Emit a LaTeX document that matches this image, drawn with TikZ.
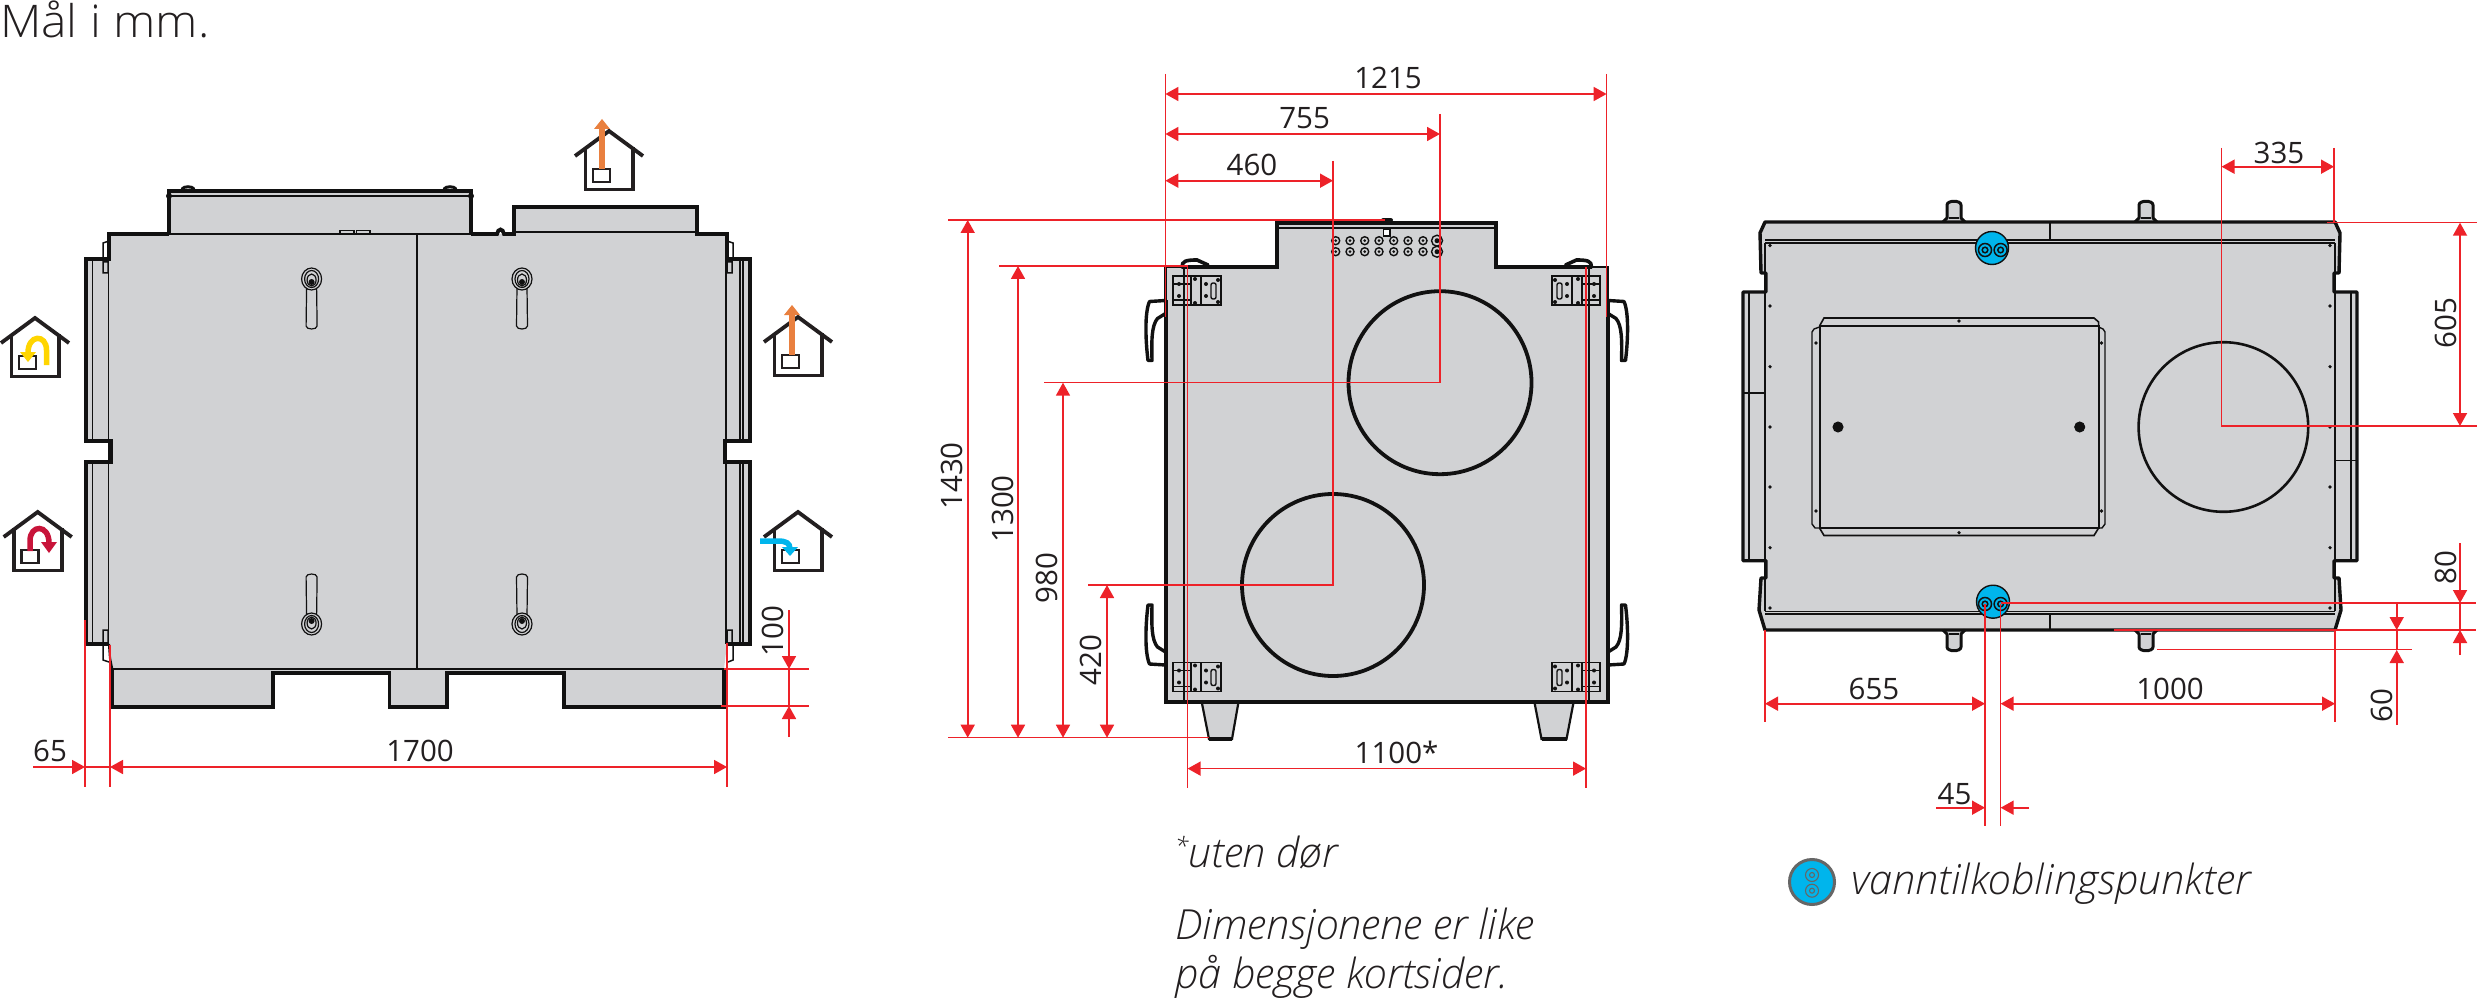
\documentclass[tikz,border=0pt]{standalone}
\usepackage{fontspec}
\setmainfont{Open Sans}
\newfontfamily\lightfont{Open Sans Light}
\newfontfamily\titlefont[FakeStretch=1.065]{Open Sans Light}
\usetikzlibrary{arrows.meta}
\definecolor{bodygray}{HTML}{D1D2D4}
\definecolor{ink}{HTML}{111111}
\definecolor{textink}{HTML}{231F20}
\definecolor{dimred}{HTML}{ED2229}
\definecolor{waterblue}{HTML}{00B5EC}
\definecolor{airorange}{HTML}{E9803F}
\definecolor{airyellow}{HTML}{FFD500}
\definecolor{airred}{HTML}{C8143A}
\tikzset{
  bodyfill/.style={fill=bodygray,draw=none},
  thick outline/.style={draw=ink,line width=3.8pt,line join=miter},
  mid outline/.style={draw=ink,line width=2.2pt},
  thin outline/.style={draw=ink,line width=1.2pt},
  dimline/.style={draw=dimred,line width=1.7pt},
  ext/.style={draw=dimred,line width=1.5pt},
  both/.style={dimline,{Triangle[length=13pt,width=14pt]}-{Triangle[length=13pt,width=14pt]}},
  toend/.style={dimline,-{Triangle[length=13pt,width=14pt]}},
  dimtext/.style={font=\fontsize{29.5}{29.5}\selectfont,text=textink,inner sep=0pt},
  dimrot/.style={dimtext,rotate=90},
  note/.style={font=\lightfont\itshape\fontsize{41.5}{41.5}\selectfont,text=textink,inner sep=0pt,anchor=base west},
  houseline/.style={draw=textink,line width=3.8pt},
}
% house icon: apex at #1,#2
\newcommand{\houseicon}[2]{%
  \begin{scope}[shift={(#1,#2)}]
    \draw[houseline,line join=miter] (-23.5,17)--(-23.5,59.5)--(24,59.5)--(24,17);
    \draw[houseline,line join=miter] (-34,26)--(0,1)--(34,26);
    \draw[draw=textink,line width=2.6pt,fill=white] (-16,39) rectangle (1,52);
  \end{scope}}
% door lock handle at #1,#2; #3 is +1 or -1 for vertical direction
\newcommand{\lockhandle}[3]{%
  \begin{scope}[shift={(#1,#2)},yscale=#3]
    \draw[thin outline,fill=bodygray] (-5,8)--(-5.5,47) .. controls (-5.5,51) and (5.5,51) .. (5.5,47)--(5,8);
    \draw[thin outline,fill=bodygray] (0,0) ellipse[x radius=10pt,y radius=11pt];
    \draw[thin outline] (0,0) ellipse[x radius=7pt,y radius=8.5pt];
    \draw[thin outline] (0,1) ellipse[x radius=4.5pt,y radius=6pt];
    \fill[ink] (0,3) circle[radius=3pt];
  \end{scope}}
% hinge plate: top left corner #1,#2, #3 x direction
\newcommand{\hingeplate}[3]{%
  \begin{scope}[shift={(#1,#2)},xscale=#3]
    \draw[draw=ink,line width=1.4pt] (0,0) rectangle (48,29);
    \draw[draw=ink,line width=1.4pt] (0,8) rectangle (18,24);
    \draw[draw=ink,line width=1.4pt] (28,0)--(28,29) (18,0)--(18,29);
    \draw[draw=ink,line width=1.4pt,rounded corners=2pt] (38,7) rectangle (43,23);
    \foreach \dx/\dy in {6/8,6/20,22/3,22/27,33/8,33/20,45/4,45/26}
      \fill[ink] (\dx,\dy) circle[radius=2pt];
  \end{scope}}
% side handle of middle view: base point #1,#2; xdir #3; ydir #4
\newcommand{\sidehandle}[4]{%
  \begin{scope}[shift={(#1,#2)},xscale=#3,yscale=#4]
    \draw[draw=ink,line width=3.4pt,fill=white,line join=round]
      (0,0)--(-16,1) .. controls (-21,12) and (-20,40) .. (-17.5,60)--(-13.5,60)
      .. controls (-14,40) and (-14,25) .. (-8,18)--(0,13);
  \end{scope}}
% lug of right view at x=#1, y=#2, dir #3
\newcommand{\lug}[3]{%
  \begin{scope}[shift={(#1,#2)},yscale=#3]
    \draw[draw=ink,line width=3pt,fill=bodygray,line join=round]
      (-11,0)--(-7,-4)--(-7,-17) .. controls (-7,-22) and (7,-22) .. (7,-17)--(7,-4)--(11,0);
    \draw[thin outline] (-5,-4)--(5,-4);
  \end{scope}}
% water connection at #1,#2 (circle centre); pipes at y #3
\newcommand{\watersocket}[3]{%
  \draw[draw=ink,line width=1.4pt,fill=waterblue] (#1,#2) circle[radius=16.5pt];
  \foreach \px in {1985,2000.6}{%
    \draw[draw=ink,line width=1.5pt] (\px,#3) circle[radius=6.5pt];
    \draw[draw=ink,line width=1.5pt] (\px,#3) circle[radius=2.8pt];}}
\begin{document}
\begin{tikzpicture}[x=1pt,y=-1pt]
\useasboundingbox (0,0) rectangle (2481,1000);
\fill[white] (0,0) rectangle (2481,1000);

\node[anchor=base west,inner sep=0pt,font=\titlefont\fontsize{45}{45}\selectfont,text=textink] (title) at (0,38) {Mål i mm.};

%================ LEFT VIEW ================
\path[bodyfill] (168,190) rectangle (471,234);
\path[bodyfill] (514,206) rectangle (697,234);
\path[bodyfill] (109,234)--(727,234)--(727,259)--(750,259)--(750,441)--(725,441)--(725,462)--(750,462)--(750,644)--(727,644)--(724,669)--(724,707)--(564,707)--(564,673)--(447,673)--(447,707)--(389.5,707)--(389.5,673)--(273,673)--(273,707)--(112.5,707)--(112.5,669)--(109,644)--(86,644)--(86,462)--(111,462)--(111,441)--(86,441)--(86,259)--(109,259)--cycle;
% outline
\draw[thick outline] (169,234)--(109,234)--(109,259)--(86,259)--(86,441)--(111,441)--(111,462)--(86,462)--(86,644)--(108,644);
\draw[thick outline] (471,234)--(497,234) .. controls (498,228) and (503,228) .. (504,234)--(514,234)--(514,207)--(697,207)--(697,234)--(727,234)--(727,259)--(750,259)--(750,441)--(725,441)--(725,462)--(750,462)--(750,644)--(728,644);
\draw[thick outline] (169,234)--(169,191)--(471,191)--(471,234);
\draw[thick outline,line width=3.2pt] (112.5,668)--(112.5,707)--(273,707)--(273,673)--(389.5,673)--(389.5,707)--(447,707)--(447,673)--(564,673)--(564,707)--(724,707)--(724,668);
\draw[mid outline] (169,234)--(471,234);
\draw[mid outline] (112.5,669)--(724,669);
\draw[mid outline] (109,644)--(110,658)--(112,668);
\draw[thin outline,line width=1.5pt] (169,196)--(471,196) (514,232)--(697,232);
\draw[thin outline,line width=1.5pt] (417,234)--(417,669);
\draw[thin outline] (108.5,259)--(108.5,644) (92.5,261)--(92.5,439) (92.5,464)--(92.5,642);
\draw[thin outline] (726,259)--(726,644) (743,261)--(743,439) (743,464)--(743,642) (740,261)--(740,439) (740,464)--(740,642);
\draw[thin outline,fill=bodygray] (340,230.5) rectangle (354,234) (356.5,230.5) rectangle (370,234);
\draw[draw=ink,line width=3pt,line cap=round] (182,189) .. controls (184,186) and (192,186) .. (194,189) (444,189) .. controls (446,186) and (454,186) .. (456,189);
\fill[ink] (169,196) circle[radius=3pt] (471,196) circle[radius=3pt];
\draw[thin outline,line width=1.5pt] (103,258)--(103,243)--(109,241) (103,262) rectangle (108,273);
\draw[thin outline,line width=1.5pt] (733,258)--(733,243)--(727,241) (727,262) rectangle (732,273);
\draw[thin outline,line width=1.5pt] (103,646)--(103,660)--(109,662) (103,630) rectangle (108,645);
\draw[thin outline,line width=1.5pt] (733,646)--(733,660)--(728,662) (727,630) rectangle (732,645);
\lockhandle{311.6}{279}{1}
\lockhandle{522}{279}{1}
\lockhandle{311.6}{624}{-1}
\lockhandle{522}{624}{-1}
% houses
\houseicon{35}{317}
\draw[draw=airyellow,line width=5.5pt] (46.5,365)--(46.5,350) .. controls (46.5,334) and (28,334) .. (28,353);
\fill[airyellow] (20,352)--(36,352)--(28,362)--cycle;
\houseicon{37.7}{511}
\draw[draw=airred,line width=5.5pt] (30,551)--(30,541) .. controls (30,524) and (49,524) .. (49,543);
\fill[airred] (41,542)--(57,542)--(49,553)--cycle;
\houseicon{609}{130}
\draw[draw=airorange,line width=5.5pt] (602,169)--(602,128);
\fill[airorange] (594,129)--(610,129)--(602,119)--cycle;
\houseicon{798}{316}
\draw[draw=airorange,line width=5.5pt] (792,355)--(792,314);
\fill[airorange] (784,315)--(800,315)--(792,305)--cycle;
\houseicon{798}{511}
\draw[draw=waterblue,line width=5.5pt] (760,541)--(778,541) .. controls (786,541) and (790,543) .. (790,549);
\fill[waterblue] (782,547)--(798,547)--(790,556)--cycle;
% dims
\draw[ext] (85,620)--(85,787);
\draw[ext] (110,645)--(110,787);
\draw[ext] (727,643)--(727,787);
\draw[toend] (33,767)--(85,767);
\draw[dimline] (85,767)--(110,767);
\draw[both] (110,767)--(727,767);
\node[dimtext] (d65) at (50,751) {65};
\node[dimtext] (d1700) at (420,751) {1700};
\draw[ext] (724,669)--(809,669);
\draw[ext] (721,706)--(809,706);
\draw[toend] (789,610)--(789,669);
\draw[dimline] (789,669)--(789,706);
\draw[toend] (789,737)--(789,706);
\node[dimrot] (d100) at (773,631) {100};

%================ MIDDLE VIEW ================
\sidehandle{1165.5}{300.5}{1}{1}
\sidehandle{1608}{300.5}{-1}{1}
\sidehandle{1165.5}{665}{1}{-1}
\sidehandle{1608}{665}{-1}{-1}
\path[bodyfill] (1165.5,267)--(1277,267)--(1277,222)--(1496,222)--(1496,267)--(1608,267)--(1608,701.6)--(1165.5,701.6)--cycle;
\path[bodyfill] (1201.7,702)--(1238.5,702)--(1232,740)--(1209,740)--cycle (1534.4,702)--(1573.6,702)--(1566.5,740)--(1541.5,740)--cycle;
\draw[draw=ink,line width=2.2pt] (1201.7,702)--(1209,739)--(1232,739)--(1238.5,702);
\draw[draw=ink,line width=2.2pt] (1534.4,702)--(1541.5,739)--(1566.5,739)--(1573.6,702);
\draw[draw=ink,line width=4pt] (1209,739)--(1232,739) (1541.5,739)--(1566.5,739);
\draw[thick outline] (1166,300)--(1166,701.6)--(1608,701.6)--(1608,300);
\draw[mid outline] (1165.5,300)--(1165.5,267)--(1182,267) (1608,300)--(1608,267)--(1592,267);
\draw[thick outline] (1182,267)--(1277,267)--(1277,223)--(1496,223)--(1496,267)--(1592,267);
\draw[draw=ink,line width=3.6pt,line cap=round] (1182,267) .. controls (1182,261) and (1186,260) .. (1197,260)--(1208,265);
\draw[draw=ink,line width=3.6pt,line cap=round] (1591.5,267) .. controls (1591.5,261) and (1587.5,260) .. (1576.5,260)--(1565.5,265);
\draw[draw=ink,line width=4pt,line cap=round] (1383,220.5) -- (1391,220.5);
\draw[mid outline,line width=1.8pt] (1277,228)--(1496,228);
\draw[mid outline,line width=2.6pt] (1184,267)--(1184,701) (1589,267)--(1589,701);
\draw[draw=ink,line width=1.1pt,fill=white] (1383.5,229.5) rectangle (1390,236);
\foreach \hx in {1335.7,1350,1364.7,1379,1393.7,1408,1423}{
  \foreach \hy in {240.7,251.7}{
    \draw[draw=ink,line width=1.4pt] (\hx,\hy) circle[radius=4pt];
    \fill[ink] (\hx,\hy) circle[radius=1.5pt];}}
\foreach \hy in {240.7,251.7}{
  \draw[draw=ink,line width=1.4pt] (1437,\hy) circle[radius=5.5pt];
  \fill[ink] (1437,\hy) circle[radius=2.5pt];}
\hingeplate{1173}{276}{1}
\hingeplate{1600}{276}{-1}
\hingeplate{1173}{662.5}{1}
\hingeplate{1600}{662.5}{-1}
\draw[draw=ink,line width=3.8pt] (1440,382.7) circle[radius=91.5pt];
\draw[draw=ink,line width=3.8pt] (1333,585) circle[radius=91pt];
% dims
\draw[ext] (1165.4,74)--(1165.4,317);
\draw[ext] (1606.6,74)--(1606.6,317);
\draw[both] (1165.4,94)--(1606.6,94);
\node[dimtext] (d1215) at (1388,78) {1215};
\draw[ext] (1440,114)--(1440,382.7)--(1043.6,382.7);
\draw[both] (1165.4,134)--(1440,134);
\node[dimtext] (d755) at (1304.6,118) {755};
\draw[ext] (1333,161)--(1333,585)--(1087.5,585);
\draw[both] (1165.4,180.7)--(1333,180.7);
\node[dimtext] (d460) at (1252,165) {460};
\draw[ext] (948,220)--(1385,220);
\draw[ext] (999,266)--(1188,266);
\draw[ext] (948,737.7)--(1209,737.7);
\draw[both] (967.7,220)--(967.7,737.7);
\draw[both] (1018,266)--(1018,737.7);
\draw[both] (1063,382.7)--(1063,737.7);
\draw[both] (1107,585)--(1107,737.7);
\node[dimrot] (d1430) at (952,476) {1430};
\node[dimrot] (d1300) at (1002.6,509) {1300};
\node[dimrot] (d980) at (1047,578) {980};
\node[dimrot] (d420) at (1091,660) {420};
\draw[ext] (1187.6,266)--(1187.6,788);
\draw[ext] (1586,267)--(1586,788);
\draw[both] (1187.6,768.6)--(1586,768.6);
\node[dimtext] (d1100) at (1396.6,752.5) {1100*};
\node[note] (n1) at (1175,867.5) {\raisebox{0.32em}{\fontsize{24}{24}\selectfont *}uten dør};
\node[note] (n2) at (1175,939.5) {Dimensjonene er like};
\node[note] (n3) at (1175,988.6) {på begge kortsider.};

%================ RIGHT VIEW ================
\path[bodyfill] (1765,222)--(2335,222)--(2340,233)--(2339,273)--(2334,273)--(2334,292)--(2357,292)--(2357,560.7)--(2334,560.7)--(2334,578)--(2339,578)--(2341,610)--(2335,630)--(1765,630)--(1759,610)--(1761,578)--(1766,578)--(1766,560.7)--(1743,560.7)--(1743,292)--(1766,292)--(1766,273)--(1761,273)--(1760,233)--cycle;
\lug{1954}{222}{1}
\lug{2146}{222}{1}
\lug{1954}{630}{-1}
\lug{2146}{630}{-1}
\draw[draw=ink,line width=3.4pt,line join=round] (1765,222)--(1760,233)--(1761,273)--(1766,273)--(1766,292)--(1743,292)--(1743,560.7)--(1766,560.7)--(1766,578)--(1761,578)--(1759,610)--(1765,630)--(2335,630)--(2341,610)--(2339,578)--(2334,578)--(2334,560.7)--(2357,560.7)--(2357,292)--(2334,292)--(2334,273)--(2339,273)--(2340,233)--(2335,222)--cycle;
\draw[mid outline,line width=1.8pt] (1765,240)--(2335,240) (1765,611.5)--(2335,611.5);
\draw[thin outline] (1765,243)--(2335,243) (1765,614)--(2335,614);
\draw[mid outline,line width=1.6pt] (2050,222)--(2050,240) (2050,614)--(2050,630);
\draw[thin outline,line width=1.3pt] (1765,243)--(1765,611) (2335,243)--(2335,611);
\draw[thin outline] (1749,293)--(1749,560) (2351,293)--(2351,560) (1743,393)--(1765,393) (2335,460.7)--(2357,460.7);
\foreach \dy in {245.5,306,366.7,427,487,547.7,608}{
  \fill[ink] (1770,\dy) circle[radius=1.8pt] (2330,\dy) circle[radius=1.8pt];}
% service door
\draw[draw=ink,line width=1.6pt] (1819.5,326)--(1824,318)--(2094,318)--(2098.6,322)--(2098.6,326);
\draw[draw=ink,line width=2pt] (1819.5,326)--(2098.6,326)--(2098.6,527.7)--(1819.5,527.7)--cycle;
\draw[draw=ink,line width=1.4pt] (1819.5,327)--(1814,329)--(1812,332)--(1812,524)--(1815,528)--(1819.5,528);
\draw[draw=ink,line width=1.4pt] (2098.6,327)--(2103,329)--(2105,332)--(2105,524)--(2102,528)--(2098.6,528);
\draw[draw=ink,line width=1.6pt] (1819.5,528)--(1824,535.5)--(2094,535.5)--(2098.6,528);
\foreach \qx/\qy in {1959/321,1959/532.7,1816/343,1816/511,2101.5/343,2101.5/511}{
  \fill[ink] (\qx,\qy) circle[radius=1.8pt];}
\draw[draw=ink,line width=1pt,fill=ink] (1838,427) circle[radius=5pt];
\draw[draw=ink,line width=1pt,fill=ink] (2079.7,427) circle[radius=5pt];
\draw[draw=ink,line width=2.6pt] (2223.4,427) circle[radius=84.8pt];
\watersocket{1992}{248}{250}
\watersocket{1993}{601.7}{604}
% dims
\draw[ext] (2221.5,148)--(2221.5,426)--(2477,426);
\draw[ext] (2334,148)--(2334,222);
\draw[both] (2221.5,166.7)--(2334,166.7);
\node[dimtext] (d335) at (2279,152.7) {335};
\draw[ext] (2327,222.7)--(2477,222.7);
\draw[both] (2460,222.7)--(2460,426);
\node[dimrot] (d605) at (2445.7,323) {605};
\draw[ext] (2001,603)--(2476,603);
\draw[ext,line width=1.8pt] (2114,629.7)--(2476,629.7);
\draw[ext] (2157,649.7)--(2411.7,649.7);
\draw[toend] (2460,543)--(2460,603);
\draw[dimline] (2460,603)--(2460,630);
\draw[toend] (2460,655)--(2460,630);
\node[dimrot] (d80) at (2445.7,568) {80};
\draw[toend] (2396.7,603)--(2396.7,630);
\draw[dimline] (2396.7,630)--(2396.7,650);
\draw[toend] (2396.7,725)--(2396.7,650);
\node[dimrot] (d60) at (2381.6,706) {60};
\draw[ext] (1765,630)--(1765,721.7);
\draw[ext] (2335,630)--(2335,721.7);
\draw[ext] (1985,604)--(1985,826);
\draw[ext] (2000.6,604)--(2000.6,826);
\draw[both] (1765,703.7)--(1985,703.7);
\draw[both] (2000.6,703.7)--(2335,703.7);
\node[dimtext] (d655) at (1874,689) {655};
\node[dimtext] (d1000) at (2170,689) {1000};
\draw[toend] (1936,807.7)--(1985,807.7);
\draw[toend] (2029,807.7)--(2000.6,807.7);
\node[dimtext] (d45) at (1954.5,794) {45};
% legend
\draw[draw=black!60,line width=3pt,fill=waterblue] (1812,882) circle[radius=22.5pt];
\foreach \ly in {875,890.7}{
  \draw[draw=black!60,line width=1.1pt] (1812,\ly) circle[radius=6.5pt];
  \draw[draw=black!60,line width=1.1pt] (1812,\ly) circle[radius=2.5pt];}
\node[note] (legend) at (1851,894) {vanntilkoblingspunkter};
\end{tikzpicture}
\end{document}
